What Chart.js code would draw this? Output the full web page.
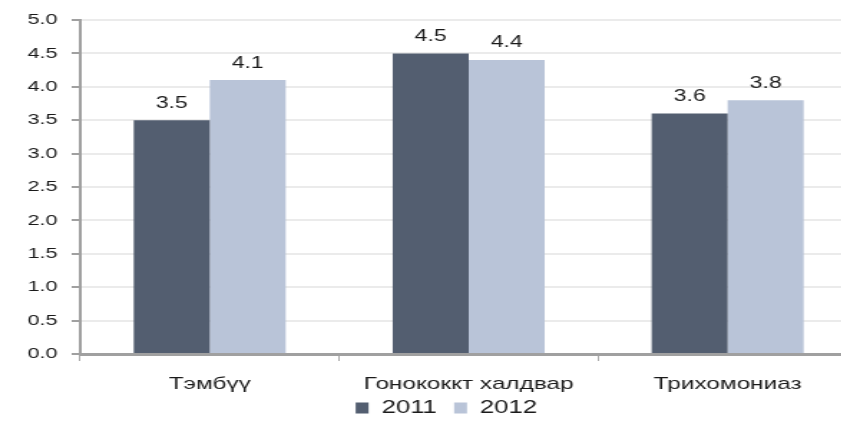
<!DOCTYPE html>
<html>
<head>
<meta charset="utf-8">
<script src="https://cdn.jsdelivr.net/npm/chart.js@4"></script>
<style>
  html, body { margin: 0; padding: 0; background: #fff; overflow: hidden; }
  /* the reference looks like a narrow picture stretched sideways, so draw narrow and stretch */
  #wrap { width: 600px; height: 421px; transform: scaleX(1.4333); transform-origin: 0 0; }
</style>
</head>
<body>
<div id="wrap"><canvas id="chart" width="600" height="421"></canvas></div>
<script>
// data
const categories = ['Тэмбүү', 'Гонококкт халдвар', 'Трихомониаз'];
const years = ['2011', '2012'];
const values2011 = [3.5, 4.5, 3.6];
const values2012 = [4.1, 4.4, 3.8];
const yTicks = [0, 0.5, 1, 1.5, 2, 2.5, 3, 3.5, 4, 4.5, 5];

const FONT = '"Liberation Sans", Arial, sans-serif';

// draw the value over each bar
const valueLabels = {
    id: 'valueLabels',
    afterDatasetsDraw(chart) {
        const ctx = chart.ctx;
        ctx.save();
        ctx.font = '16px ' + FONT;
        ctx.fillStyle = '#1a1a1a';
        ctx.textAlign = 'center';
        ctx.textBaseline = 'bottom';
        chart.data.datasets.forEach((ds, i) => {
            chart.getDatasetMeta(i).data.forEach((bar, j) => {
                ctx.fillText(ds.data[j].toFixed(1), bar.x, bar.y - 9);
            });
        });
        ctx.restore();
    }
};

// nudge the legend a little right and up, like in the picture
const legendNudge = {
    id: 'legendNudge',
    afterLayout(chart) {
        const lg = chart.legend;
        lg.left += 12.5;
        lg.right += 12.5;
        lg.top -= 7;
        lg.bottom -= 7;
    }
};

new Chart(document.getElementById('chart').getContext('2d'), {
    type: 'bar',
    data: {
        labels: categories,
        datasets: [
            {
                label: years[0],
                data: values2011,
                backgroundColor: '#535e70'
            },
            {
                label: years[1],
                data: values2012,
                backgroundColor: '#b9c4d8'
            }
        ]
    },
    options: {
        responsive: false,
        animation: false,
        layout: { padding: { top: 20, right: 2, left: 0, bottom: -13 } },
        datasets: {
            bar: { categoryPercentage: 0.587, barPercentage: 1.0 }
        },
        scales: {
            x: {
                offset: true,
                grid: { display: true, drawOnChartArea: false, color: '#a8a8a8', tickLength: 7, lineWidth: 1 },
                border: { display: true, color: '#a0a0a0', width: 3 },
                ticks: { font: { family: FONT, size: 17 }, color: '#1a1a1a', padding: 13 },
                afterFit: s => { s.height = 40; }
            },
            y: {
                min: 0,
                max: 5,
                afterBuildTicks: s => { s.ticks = yTicks.map(v => ({ value: v })); },
                grid: { color: '#ebebeb', lineWidth: 2, tickLength: 6, tickColor: '#a0a0a0' },
                border: { display: true, color: '#a0a0a0', width: 2 },
                ticks: {
                    font: { family: FONT, size: 15 },
                    color: '#1a1a1a',
                    padding: 10,
                    callback: v => v.toFixed(1)
                },
                afterFit: s => { s.width = 56; }
            }
        },
        plugins: {
            legend: {
                position: 'bottom',
                labels: {
                    font: { family: FONT, size: 18 },
                    color: '#1a1a1a',
                    boxWidth: 9,
                    boxHeight: 11,
                    padding: 12
                }
            },
            tooltip: { enabled: false }
        }
    },
    plugins: [valueLabels, legendNudge]
});
</script>
</body>
</html>
